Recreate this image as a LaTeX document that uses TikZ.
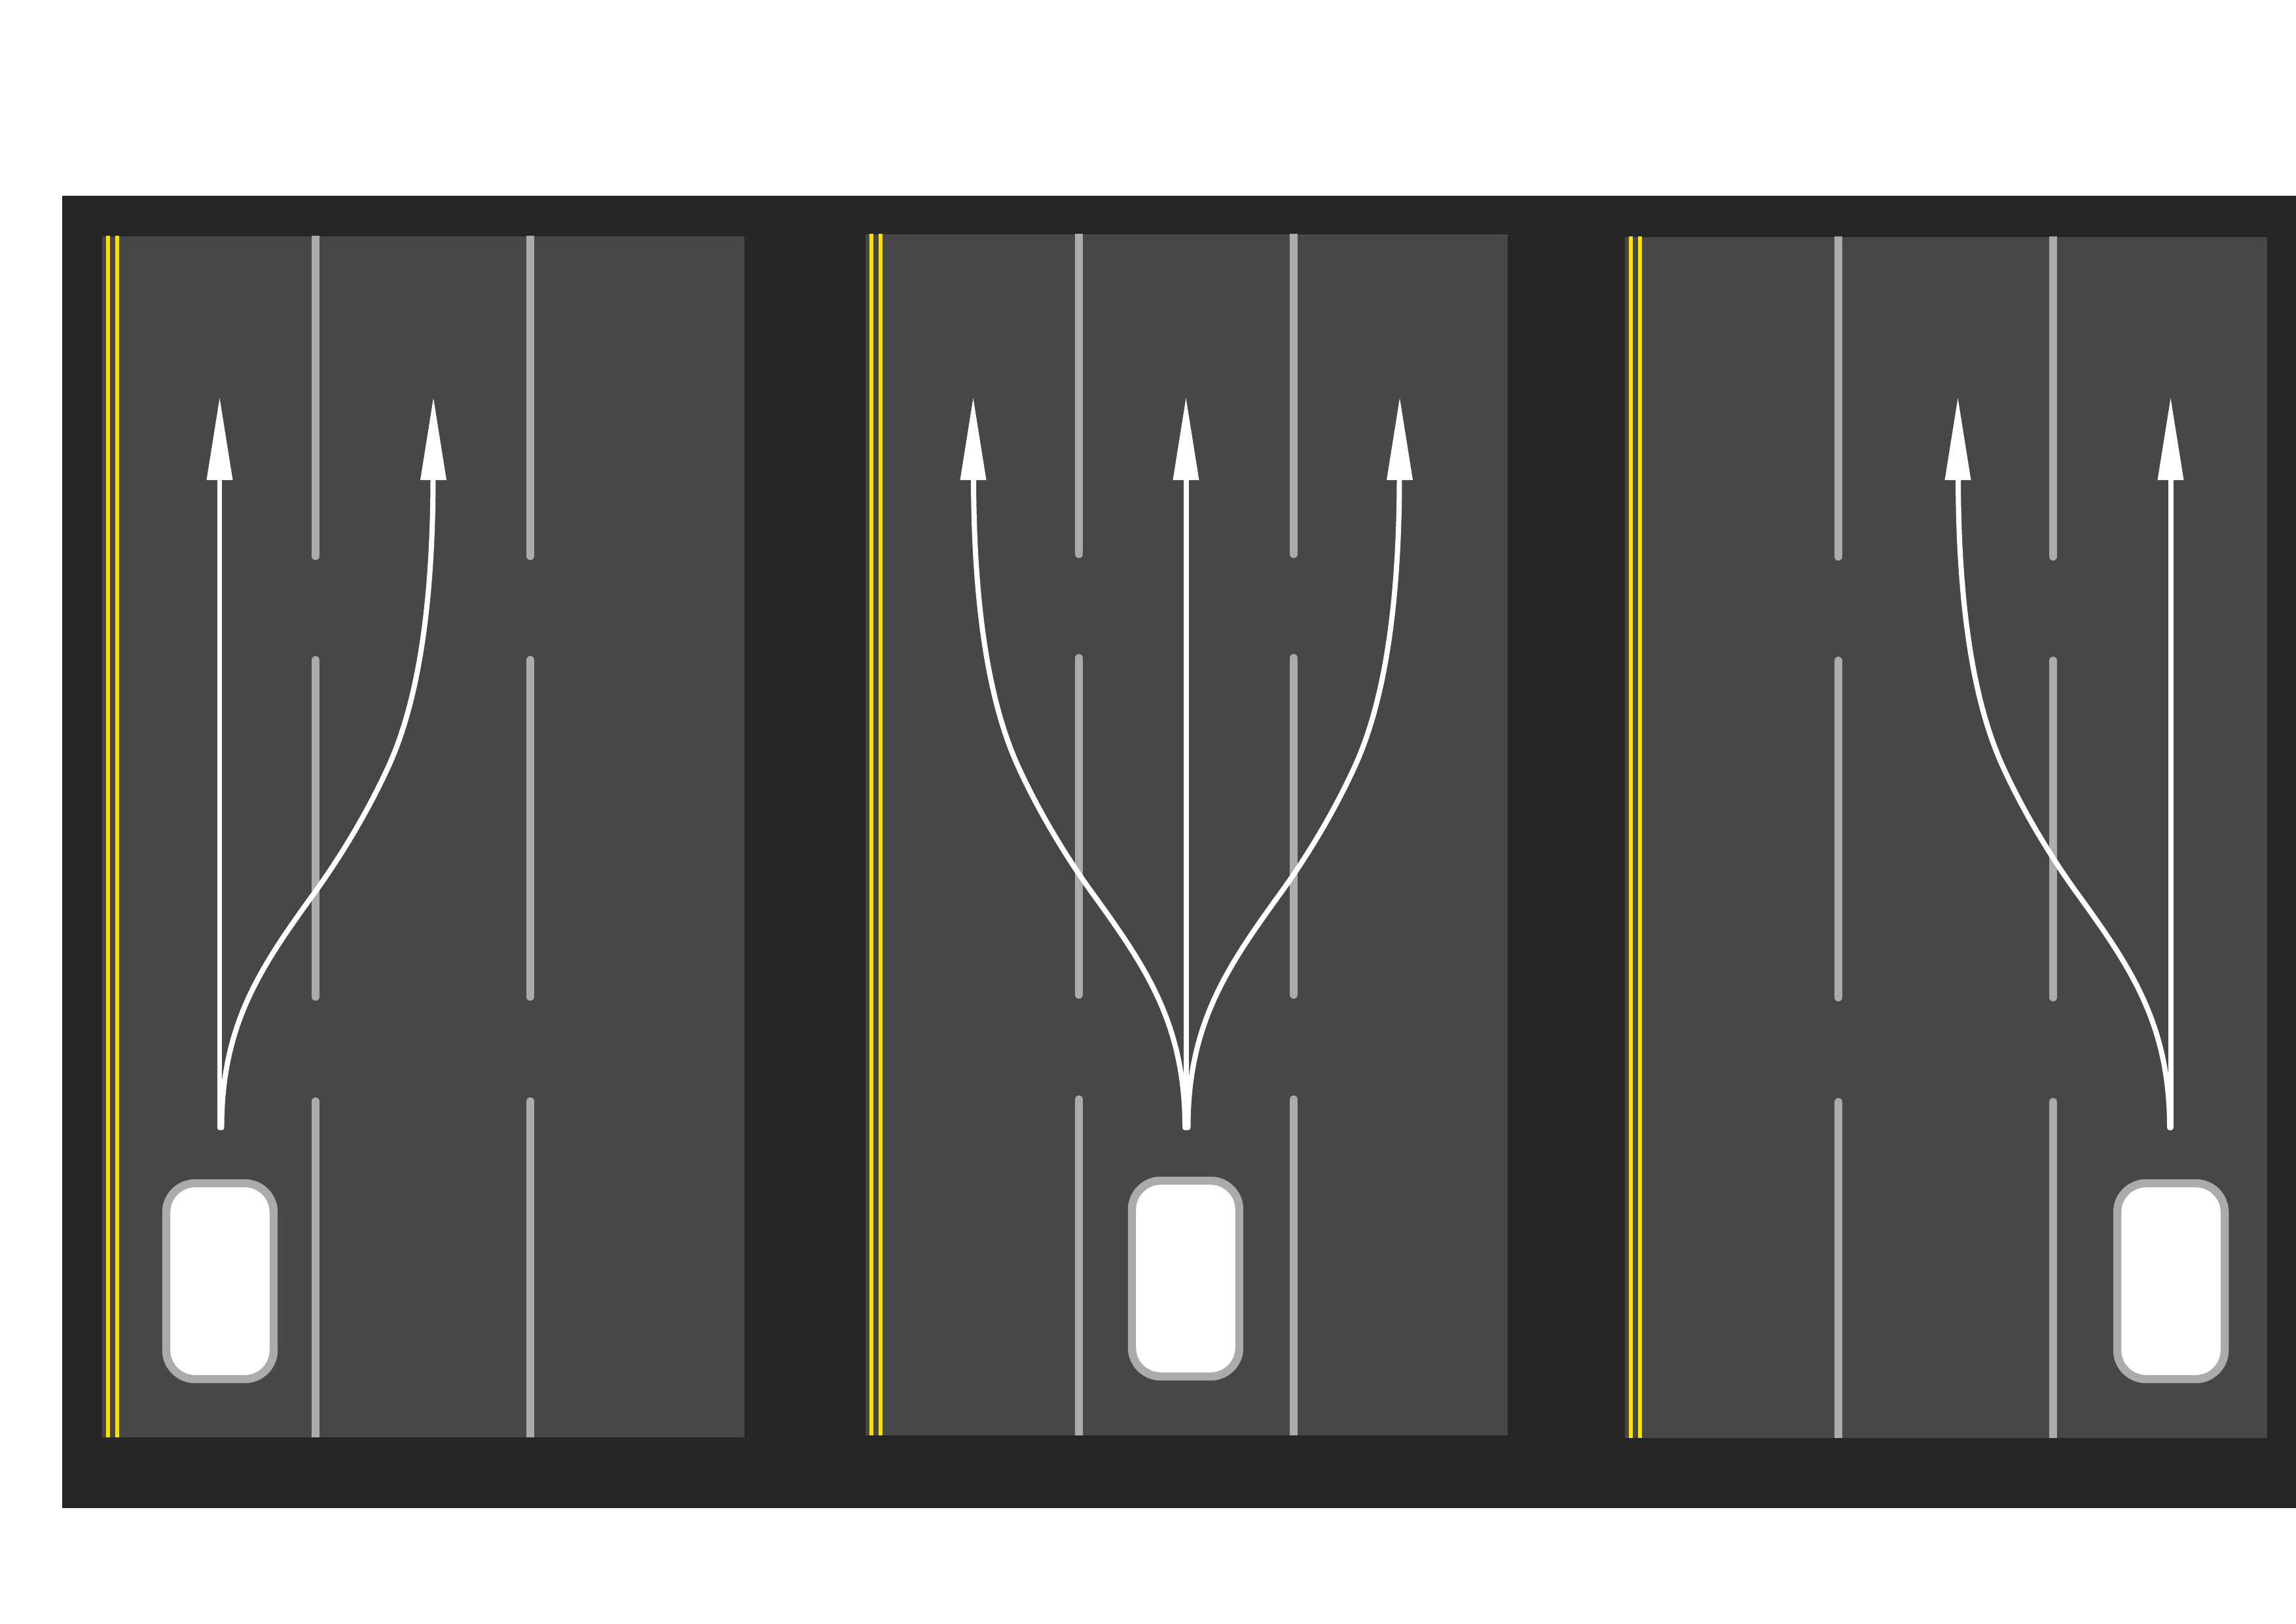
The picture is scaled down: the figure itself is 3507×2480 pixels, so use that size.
\documentclass[tikz,border=0pt]{standalone}
\definecolor{roadout}{HTML}{262626}
\definecolor{roadin}{HTML}{474747}
\definecolor{lanegray}{HTML}{ABABAB}
\definecolor{lineyellow}{HTML}{FFE000}
\tikzset{
  x=0.02cm,y=-0.02cm,
  px/.style={line width=#1*0.5669pt},
  lane/.style={draw=lanegray,px=12.5,line cap=round},
  yellowline/.style={draw=lineyellow,px=6.3},
  route/.style={draw=white,px=8,line cap=round},
  head/.style={fill=white,draw=none},
  car/.style={draw=lanegray,fill=white,px=12.5,rounded corners=25pt}
}
% one lane route from the car: straight
\newcommand{\straightroute}[1]{%
  \draw[route] (#1,1722) -- (#1,725);
  \fill[head] (#1,608) -- (#1+20,733) -- (#1-20,733) -- cycle;
}
% lane-change route, #1 = centre x, #2 = direction (+1 right, -1 left)
\newcommand{\changeroute}[2]{%
  \begin{scope}[shift={(#1,0)},xscale=#2]
    \draw[route] (3,1722) .. controls (3,1562) and (64,1475) .. (148,1359)
      .. controls (191,1299) and (231,1230) .. (259,1168)
      .. controls (294,1090) and (326,960) .. (326,725);
    \fill[head] (326.5,608) -- (346.5,733) -- (306.5,733) -- cycle;
  \end{scope}
}
\newcommand{\roadpanel}[2]{%
  \begin{scope}[shift={(#1,#2)}]
    \fill[roadin] (155.5,361) rectangle (1136.5,2194.5);
    \begin{scope}
      \clip (155.5,361) rectangle (1136.5,2194.5);
      \draw[yellowline] (165,350) -- (165,2200);
      \draw[yellowline] (179,350) -- (179,2200);
      \foreach \lx in {482,810} {
        \draw[lane] (\lx,340) -- (\lx,849);
        \draw[lane] (\lx,1008) -- (\lx,1522);
        \draw[lane] (\lx,1682) -- (\lx,2210);
      }
    \end{scope}
  \end{scope}
}
\begin{document}
\begin{tikzpicture}
\useasboundingbox (0,0) rectangle (3507,2480);
\fill[white] (0,0) rectangle (3507,2480);
\fill[roadout] (95,299) rectangle (3507,2303);
% left panel
\roadpanel{0}{0}
\straightroute{335.5}
\changeroute{335.5}{1}
\draw[car] (254,1807) rectangle (418,2106);
% centre panel
\roadpanel{1166}{-3}
\straightroute{1811.5}
\changeroute{1811.5}{1}
\changeroute{1813}{-1}
\draw[car] (1729,1803) rectangle (1893,2102);
% right panel
\roadpanel{2326}{1}
\straightroute{3315.5}
\changeroute{3317}{-1}
\draw[car] (3234,1807) rectangle (3398,2106);
\end{tikzpicture}
\end{document}
